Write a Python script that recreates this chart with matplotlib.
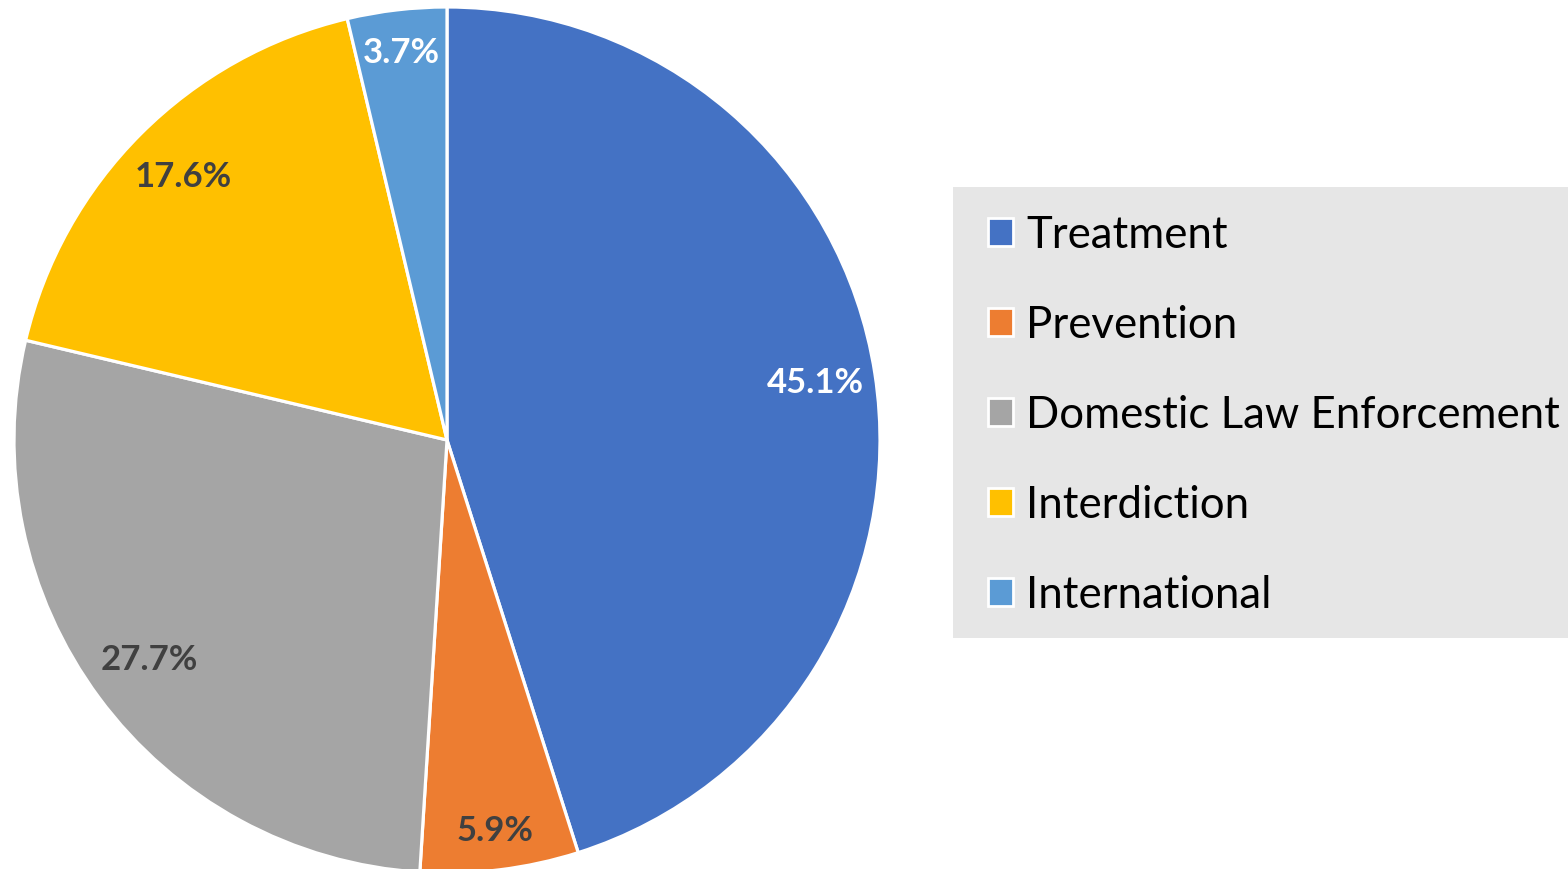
import matplotlib
matplotlib.use("Agg")
import matplotlib.pyplot as plt
from matplotlib.patches import Patch, Rectangle
import numpy as np

categories = ["Treatment", "Prevention", "Domestic Law Enforcement",
              "Interdiction", "International"]
shares = [45.1, 5.9, 27.7, 17.6, 3.7]
colors = ["#4472C4", "#ED7D31", "#A5A5A5", "#FFC000", "#5B9BD5"]
label_colors = ["white", "#404040", "#404040", "#404040", "white"]
label_radius = [0.86, 0.91, 0.855, 0.86, 0.90]

plt.rcParams["font.family"] = ["Lato", "DejaVu Sans"]

W, H = 1568, 869
fig = plt.figure(figsize=(W / 100, H / 100), dpi=100)

# pie axes: centre (447, 440) px, radius 433 px
cx, cy, r = 447, 440, 433
ax = fig.add_axes([(cx - r) / W, (H - cy - r) / H, 2 * r / W, 2 * r / H])
wedges, _ = ax.pie(shares, colors=colors, startangle=90, counterclock=False,
                   radius=1.0,
                   wedgeprops=dict(edgecolor="white", linewidth=2.3))
ax.set_xlim(-1, 1)
ax.set_ylim(-1, 1)
ax.set_aspect("equal")
ax.axis("off")

for w, val, tc, lr in zip(wedges, shares, label_colors, label_radius):
    mid = np.deg2rad((w.theta1 + w.theta2) / 2)
    ax.text(lr * np.cos(mid), lr * np.sin(mid), f"{val:.1f}%",
            ha="center", va="center", color=tc, fontsize=25,
            fontweight="bold")

# legend panel
fig.patches.append(Rectangle((953 / W, (H - 638) / H), (W - 953) / W,
                             (638 - 187) / H, transform=fig.transFigure,
                             facecolor="#E6E6E6", edgecolor="none", zorder=0))

handles = [Patch(facecolor=c, edgecolor="white", linewidth=2) for c in colors]
leg = fig.legend(handles, categories, loc="center left",
                 bbox_to_anchor=(988 / W, (H - 415) / H),
                 frameon=False, fontsize=31.5, handlelength=0.58,
                 handleheight=0.58, handletextpad=0.3,
                 labelspacing=1.12, borderaxespad=0, borderpad=0)

fig.savefig("out.png", dpi=100, facecolor="white")
